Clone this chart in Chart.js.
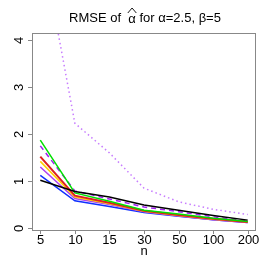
<!DOCTYPE html>
<html>
<head>
<meta charset="utf-8">
<script src="https://cdn.jsdelivr.net/npm/chart.js@4"></script>
<style>
  html, body { margin: 0; padding: 0; background: #fff; }
  #wrap { width: 273px; height: 273px; }
</style>
</head>
<body>
<div id="wrap"><canvas id="chartCanvas" width="273" height="273"></canvas></div>
<script>
const nLabels = ['5', '10', '15', '30', '50', '100', '200'];
const yTicks = [0, 1, 2, 3, 4];

const dottedViolet = [6.2, 2.23, 1.6, 0.85, 0.56, 0.4, 0.29];
const dashedPurple = [1.75, 0.79, 0.62, 0.45, 0.35, 0.24, 0.15];
const black = [1.02, 0.78, 0.66, 0.49, 0.38, 0.27, 0.17];
const green = [1.87, 0.75, 0.57, 0.38, 0.3, 0.21, 0.14];
const red = [1.52, 0.69, 0.54, 0.37, 0.28, 0.2, 0.13];
const yellow = [1.42, 0.66, 0.52, 0.36, 0.27, 0.19, 0.13];
const violet = [1.3, 0.63, 0.5, 0.35, 0.26, 0.18, 0.12];
const blue = [1.12, 0.58, 0.46, 0.33, 0.25, 0.18, 0.12];

function pts(values) {
    return values.map((v, i) => ({ x: i + 1, y: v }));
}

function series(values, color, width, dash) {
    return {
        data: pts(values),
        borderColor: color,
        borderWidth: width,
        borderDash: dash || [],
        pointRadius: 0,
        fill: false,
        tension: 0
    };
}

const font = '"Liberation Sans", Arial, sans-serif';

const axisPlugin = {
    id: 'rAxes',
    afterDraw(chart) {
        const ctx = chart.ctx;
        const area = chart.chartArea;
        const xs = chart.scales.x;
        const ys = chart.scales.y;
        ctx.save();
        ctx.strokeStyle = '#888';
        ctx.lineWidth = 1;
        ctx.strokeRect(area.left + 0.5, area.top + 0.5, area.right - area.left - 1, area.bottom - area.top);

        ctx.fillStyle = '#000';
        ctx.font = '13px ' + font;
        // x ticks
        ctx.textAlign = 'center';
        ctx.textBaseline = 'top';
        nLabels.forEach((lab, i) => {
            const px = Math.round(xs.getPixelForValue(i + 1)) + 0.5;
            ctx.beginPath();
            ctx.moveTo(px, area.bottom);
            ctx.lineTo(px, area.bottom + 4);
            ctx.stroke();
            ctx.fillText(lab, px, area.bottom + 4);
        });
        ctx.fillText('n', (area.left + area.right) / 2, area.bottom + 15);

        // y ticks, rotated
        yTicks.forEach(v => {
            const py = Math.round(ys.getPixelForValue(v)) + 0.5;
            ctx.beginPath();
            ctx.moveTo(area.left, py);
            ctx.lineTo(area.left - 4, py);
            ctx.stroke();
            ctx.save();
            ctx.translate(area.left - 6, py);
            ctx.rotate(-Math.PI / 2);
            ctx.textAlign = 'center';
            ctx.textBaseline = 'bottom';
            ctx.fillText(String(v), 0, 0);
            ctx.restore();
        });

        // title with a wide hat over the first alpha
        const pre = 'RMSE of  ';
        const hatted = '\u03B1';
        const post = ' for \u03B1=2.5, \u03B2=5';
        ctx.font = '13px ' + font;
        const wPre = ctx.measureText(pre).width;
        const wA = ctx.measureText(hatted).width;
        const wPost = ctx.measureText(post).width;
        const total = wPre + wA + wPost;
        const x0 = (area.left + area.right) / 2 + 1 - total / 2;
        const ty = 18;
        ctx.textAlign = 'left';
        ctx.textBaseline = 'middle';
        ctx.fillText(pre, x0, ty);
        ctx.fillText(hatted, x0 + wPre, ty + 1);
        ctx.fillText(post, x0 + wPre + wA, ty);
        ctx.strokeStyle = '#000';
        ctx.lineWidth = 0.9;
        ctx.beginPath();
        ctx.moveTo(x0 + wPre - 0.5, ty - 5);
        ctx.lineTo(x0 + wPre + wA / 2, ty - 10);
        ctx.lineTo(x0 + wPre + wA + 0.5, ty - 5);
        ctx.stroke();
        ctx.restore();
    }
};

const ctx = document.getElementById('chartCanvas').getContext('2d');
new Chart(ctx, {
    type: 'line',
    data: {
        datasets: [
            series(dottedViolet, '#C77CFF', 1.5, [1.5, 3]),
            series(black, '#000000', 1.5),
            series(green, '#00E000', 1.5),
            series(red, '#DD2020', 2),
            series(yellow, '#FFD000', 1.5),
            series(violet, '#B040F0', 1.5),
            series(blue, '#1030FF', 1.5),
            series(dashedPurple, '#A020F0', 1.5, [5, 4])
        ]
    },
    options: {
        responsive: false,
        animation: false,
        layout: { padding: { top: 33, right: 17, left: 0, bottom: 0 } },
        plugins: {
            legend: { display: false },
            title: { display: false },
            tooltip: { enabled: false }
        },
        scales: {
            x: {
                type: 'linear',
                min: 0.76,
                max: 7.24,
                grid: { display: false },
                border: { display: false },
                ticks: { display: false },
                afterFit(scale) { scale.height = 43; }
            },
            y: {
                min: -0.04,
                max: 4.15,
                grid: { display: false },
                border: { display: false },
                ticks: { display: false },
                afterFit(scale) { scale.width = 32; }
            }
        }
    },
    plugins: [axisPlugin]
});
</script>
</body>
</html>
